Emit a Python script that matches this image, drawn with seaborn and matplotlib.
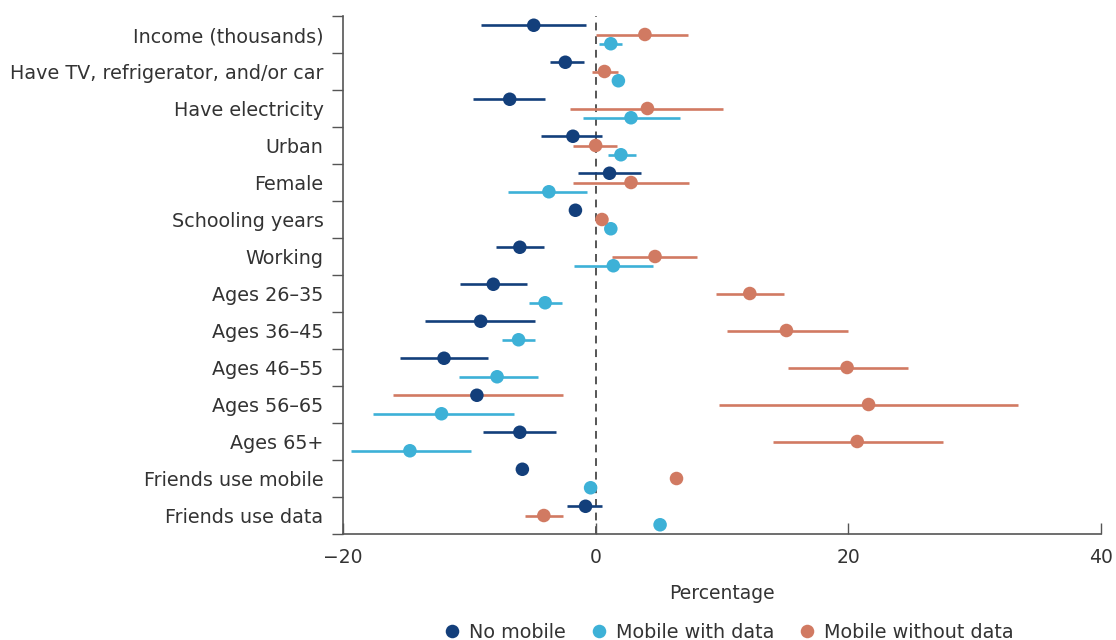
import matplotlib
matplotlib.use("Agg")
import matplotlib.pyplot as plt
from matplotlib.ticker import FixedLocator
import seaborn as sns
import pandas as pd
import numpy as np

sns.set_theme(style="ticks")
plt.rcParams["font.family"] = ["DejaVu Sans"]

features = [
    "Income (thousands)",
    "Have TV, refrigerator, and/or car",
    "Have electricity",
    "Urban",
    "Female",
    "Schooling years",
    "Working",
    "Ages 26\u201335",
    "Ages 36\u201345",
    "Ages 46\u201355",
    "Ages 56\u201365",
    "Ages 65+",
    "Friends use mobile",
    "Friends use data",
]

# point estimates and interval bounds (nan = no interval drawn)
no_mobile = [-4.9, -2.4, -6.8, -1.8, 1.1, -1.6, -6.0, -8.1, -9.1, -12.0, -9.4, -6.0, -5.8, -0.8]
no_mobile_lo = [-9.1, -3.6, -9.7, -4.3, -1.4, np.nan, -7.9, -10.7, -13.5, -15.5, -16.0, -8.9, np.nan, -2.3]
no_mobile_hi = [-0.8, -0.9, -4.0, 0.5, 3.6, np.nan, -4.1, -5.4, -4.8, -8.5, -2.6, -3.1, np.nan, 0.5]

with_data = [1.2, 1.8, 2.8, 2.0, -3.7, 1.2, 1.4, -4.0, -6.1, -7.8, -12.2, -14.7, -0.4, 5.1]
with_data_lo = [0.3, np.nan, -1.0, 1.0, -6.9, np.nan, -1.7, -5.3, -7.4, -10.8, -17.6, -19.4, np.nan, np.nan]
with_data_hi = [2.1, np.nan, 6.7, 3.2, -0.7, np.nan, 4.5, -2.7, -4.8, -4.6, -6.5, -9.9, np.nan, np.nan]

without_data = [3.9, 0.7, 4.1, 0.0, 2.8, 0.5, 4.7, 12.2, 15.1, 19.9, 21.6, 20.7, 6.4, -4.1]
without_data_lo = [0.0, -0.3, -2.0, -1.8, -1.8, np.nan, 1.3, 9.5, 10.4, 15.2, 9.8, 14.0, np.nan, -5.6]
without_data_hi = [7.3, 1.8, 10.1, 1.7, 7.4, np.nan, 8.0, 14.9, 20.0, 24.7, 33.4, 27.5, np.nan, -2.6]

groups = ["No mobile", "Mobile with data", "Mobile without data"]
colors = {"No mobile": "#133f7b", "Mobile with data": "#3db1d7", "Mobile without data": "#d17a62"}
# vertical offset within each row: no mobile on top, without data middle, with data bottom
offsets = {"No mobile": -0.25, "Mobile without data": 0.0, "Mobile with data": 0.25}

frames = []
for g, est, lo, hi in [
    ("No mobile", no_mobile, no_mobile_lo, no_mobile_hi),
    ("Mobile with data", with_data, with_data_lo, with_data_hi),
    ("Mobile without data", without_data, without_data_lo, without_data_hi),
]:
    frames.append(pd.DataFrame({"feature": features, "group": g, "est": est, "lo": lo, "hi": hi}))
df = pd.concat(frames, ignore_index=True)
df["row"] = df["feature"].map({f: i for i, f in enumerate(features)})
df["ypos"] = df["row"] + df["group"].map(offsets)
# in the source, the 56-65 "no mobile" interval is drawn in the orange colour
df["ci_color"] = df["group"].map(colors)
df.loc[(df["group"] == "No mobile") & (df["feature"] == "Ages 56\u201365"), "ci_color"] = colors["Mobile without data"]

fig, ax = plt.subplots(figsize=(11.16, 6.4), dpi=100)
fig.subplots_adjust(left=0.3073, right=0.9866, top=0.975, bottom=0.1656)

ci = df.dropna(subset=["lo"])
ax.hlines(ci["ypos"], ci["lo"], ci["hi"], colors=ci["ci_color"], lw=1.9, zorder=2)
ax.axvline(0, color="#555555", ls=(0, (4, 3)), lw=1.4, zorder=1)

sns.scatterplot(
    data=df, x="est", y="ypos", hue="group", hue_order=groups,
    palette=colors, s=95, edgecolor="none", ax=ax, zorder=3,
)

ax.set_xlim(-20, 40)
ax.set_ylim(len(features) - 0.5, -0.5)
ax.set_xticks([-20, 0, 20, 40])
ax.set_yticks(range(len(features)))
ax.set_yticklabels(features)
ax.yaxis.set_minor_locator(FixedLocator(np.arange(-0.5, len(features), 1.0)))
ax.tick_params(axis="y", which="major", length=0, pad=14, labelsize=13.8, labelcolor="#333333")
ax.tick_params(axis="y", which="minor", length=8, width=1, color="#555555")
ax.tick_params(axis="x", direction="in", length=8, width=1, color="#555555",
               labelsize=13.5, labelcolor="#333333", pad=10)
ax.set_ylabel("")
ax.set_xlabel("Percentage", fontsize=13.5, color="#333333", labelpad=12, fontweight="medium")
sns.despine(ax=ax)
for sp in ["left", "bottom"]:
    ax.spines[sp].set_color("#555555")
    ax.spines[sp].set_linewidth(1.2)

handles, labels = ax.get_legend_handles_labels()
ax.get_legend().remove()
fig.legend(handles, labels, loc="lower center", bbox_to_anchor=(0.648, -0.006), ncol=3,
           frameon=False, fontsize=13.8, handletextpad=-0.1, columnspacing=0.7,
           borderpad=0.1, borderaxespad=0, markerscale=1.0, labelcolor="#333333")

fig.savefig("out.png", dpi=100)
